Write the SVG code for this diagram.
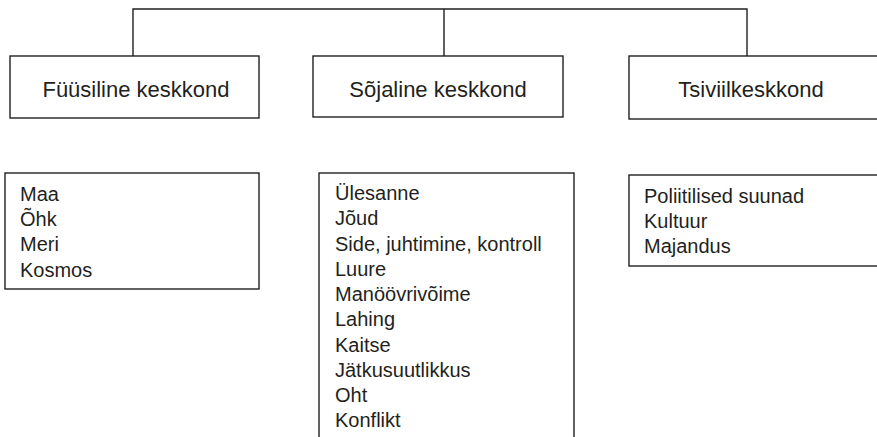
<svg xmlns="http://www.w3.org/2000/svg" width="877" height="437" viewBox="0 0 877 437">
<style>
.box{fill:#fff;stroke:#231f20;stroke-width:1.4}
.ln{fill:none;stroke:#231f20;stroke-width:1.4}
.h{font-family:"Liberation Sans",Arial,sans-serif;font-size:22px;fill:#231f20;text-anchor:middle}
.t{font-family:"Liberation Sans",Arial,sans-serif;font-size:20px;fill:#231f20}
</style>
<rect width="877" height="437" fill="#fff"/>
<g id="connectors">
<path class="ln" d="M133,56 V9 H747 V56 M444,9 V56"/>
</g>
<g id="n-fuusiline">
<rect class="box" x="10" y="56" width="249" height="62"/>
<text class="h" x="136" y="97">Füüsiline keskkond</text>
</g>
<g id="n-sojaline">
<rect class="box" x="313" y="56" width="250" height="61"/>
<text class="h" x="438" y="97">Sõjaline keskkond</text>
</g>
<g id="n-tsiviil">
<rect class="box" x="629" y="56" width="260" height="63"/>
<text class="h" x="751" y="97">Tsiviilkeskkond</text>
</g>
<g id="n-fuusiline-list">
<rect class="box" x="5" y="173" width="254" height="116"/>
<text class="t" x="20" y="201">Maa</text>
<text class="t" x="20" y="226">Õhk</text>
<text class="t" x="20" y="251">Meri</text>
<text class="t" x="20" y="277">Kosmos</text>
</g>
<g id="n-sojaline-list">
<rect class="box" x="319" y="173" width="255" height="280"/>
<text class="t" x="335" y="200">Ülesanne</text>
<text class="t" x="335" y="225.3">Jõud</text>
<text class="t" x="335" y="250.5">Side, juhtimine, kontroll</text>
<text class="t" x="335" y="275.8">Luure</text>
<text class="t" x="335" y="301">Manöövrivõime</text>
<text class="t" x="335" y="326.3">Lahing</text>
<text class="t" x="335" y="351.5">Kaitse</text>
<text class="t" x="335" y="376.8">Jätkusuutlikkus</text>
<text class="t" x="335" y="402">Oht</text>
<text class="t" x="335" y="427">Konflikt</text>
</g>
<g id="n-tsiviil-list">
<rect class="box" x="629" y="175" width="260" height="91"/>
<text class="t" x="644" y="203">Poliitilised suunad</text>
<text class="t" x="644" y="228">Kultuur</text>
<text class="t" x="644" y="253">Majandus</text>
</g>
</svg>
